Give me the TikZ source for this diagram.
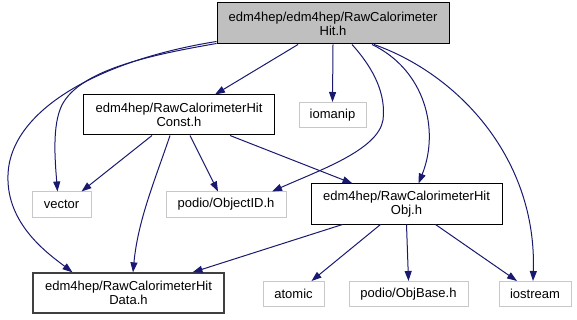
\documentclass[tikz,border=0pt]{standalone}
\usepackage{fontspec}
\setmainfont{Liberation Sans}
\usetikzlibrary{arrows.meta}
\definecolor{edgeblue}{HTML}{191970}
\definecolor{rootgray}{HTML}{BFBFBF}
\definecolor{sysgray}{HTML}{C8C8C8}
\begin{document}
\begin{tikzpicture}[x=1pt,y=-1pt,font=\fontsize{13}{14}\selectfont,
    file/.style={draw=black,line width=1pt,fill=white,inner sep=0pt,align=center,minimum width=191pt,minimum height=40pt},
    sysfile/.style={draw=sysgray,line width=1pt,fill=white,inner sep=0pt,minimum height=25pt},
    dep/.style={edgeblue,line width=1pt,-{Triangle[length=10pt,width=7pt]}}]
\useasboundingbox (0,0) rectangle (577,320);
\node[file,fill=rootgray,minimum width=232pt,minimum height=41pt] (root) at (333,23.5) {edm4hep/edm4hep/RawCalorimeter\\Hit.h};
\node[file] (const) at (179,115) {edm4hep/RawCalorimeterHit\\Const.h};
\node[sysfile,minimum width=67pt] (iomanip) at (332.5,115) {iomanip};
\node[sysfile,minimum width=59pt] (vector) at (61.5,204.5) {vector};
\node[sysfile,minimum width=120pt] (objid) at (226,204.5) {podio/ObjectID.h};
\node[file] (obj) at (406.5,204) {edm4hep/RawCalorimeterHit\\Obj.h};
\node[sysfile,minimum width=61pt] (atomic) at (293.5,294) {atomic};
\node[sysfile,minimum width=119pt] (objbase) at (408.5,294) {podio/ObjBase.h};
\node[sysfile,minimum width=72pt] (iostream) at (535,294) {iostream};
\node[file,draw=black!75,line width=1.3pt] (data) at (128.5,293) {edm4hep/RawCalorimeterHit\\Data.h};
\draw[dep] ([yshift=3]root.south west) .. controls (100,60) and (10,110) .. (8,175) .. controls (6,225) and (50,255) .. ([xshift=-56]data.north);
\draw[dep] ([yshift=1]root.south west) .. controls (150,55) and (80,70) .. (62,105) .. controls (52,125) and (55,160) .. ([xshift=-4]vector.north);
\draw[dep] ([xshift=-35]root.south) -- ([xshift=36]const.north);
\draw[dep] (root.south) -- (iomanip.north);
\draw[dep] ([xshift=19]root.south) .. controls (375,70) and (386,95) .. (383,120) .. controls (378,150) and (320,170) .. ([xshift=46]objid.north);
\draw[dep] ([xshift=39]root.south) .. controls (425,70) and (440,130) .. ([xshift=12]obj.north);
\draw[dep] ([xshift=41]root.south) .. controls (460,75) and (537,160) .. ([xshift=-2]iostream.north);
\draw[dep] ([xshift=-27]const.south) -- ([xshift=20]vector.north);
\draw[dep] ([xshift=-9]const.south) .. controls (155,180) and (138,220) .. ([xshift=4.5]data.north);
\draw[dep] ([xshift=11]const.south) -- ([xshift=-8]objid.north);
\draw[dep] ([xshift=51]const.south) -- ([xshift=-54]obj.north);
\draw[dep] ([xshift=-64]obj.south) -- ([xshift=64]data.north);
\draw[dep] ([xshift=-26]obj.south) -- ([xshift=18]atomic.north);
\draw[dep] (obj.south) -- (objbase.north);
\draw[dep] ([xshift=29]obj.south) -- ([xshift=-18]iostream.north);
\end{tikzpicture}
\end{document}
